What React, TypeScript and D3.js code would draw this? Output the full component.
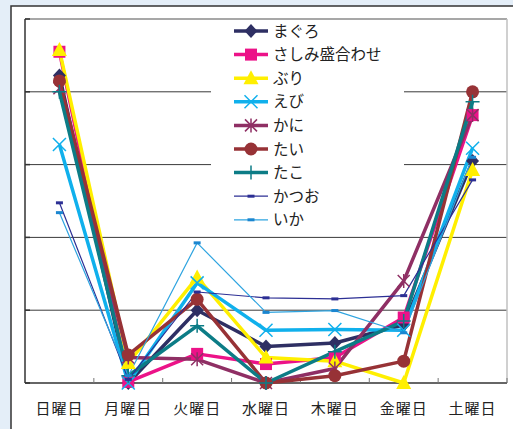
import React from "react";
import * as d3 from "d3";

const days = ["日曜日", "月曜日", "火曜日", "水曜日", "木曜日", "金曜日", "土曜日"];
const seriesNames = ["まぐろ", "さしみ盛合わせ", "ぶり", "えび", "かに", "たい", "たこ", "かつお", "いか"];
const maguro = [84.5, 0, 20, 10, 11, 16, 61];
const sashimi = [91, 0.3, 8, 5.2, 7, 18, 73.6];
const buri = [91.5, 5.5, 29, 7, 6, 0, 58.5];
const ebi = [65.5, 0, 27.5, 14.5, 14.7, 14.5, 64.5];
const kani = [81, 7, 6.5, 0, 4, 28, 73.6];
const tai = [83, 7.7, 23, 0, 2, 6, 80];
const tako = [80, 2, 15.7, 0, 8.6, 17, 77.3];
const katsuo = [49.5, 1, 25, 23.4, 23.1, 24, 55.8];
const ika = [46.8, 2, 38.5, 19.4, 19.9, 13.8, 62];
const yTicks = [0, 20, 40, 60, 80, 100];

const seriesValues = [maguro, sashimi, buri, ebi, kani, tai, tako, katsuo, ika];
const styles = [
  { color: "#2e2f63", width: 3.5, marker: "diamond" },
  { color: "#ec1288", width: 3.5, marker: "square" },
  { color: "#ffef00", width: 3.5, marker: "triangle" },
  { color: "#10b0ec", width: 3.5, marker: "x" },
  { color: "#8f2f64", width: 3.5, marker: "star" },
  { color: "#973236", width: 3.5, marker: "circle" },
  { color: "#0c7c86", width: 3.5, marker: "plus" },
  { color: "#2c2f94", width: 1.2, marker: "dash", mcolor: "#2c2f94" },
  { color: "#2ea4e0", width: 1.2, marker: "dash", mcolor: "#1b86d0" },
];

const W = 513, H = 429;
const L = 25, R = 507, T = 19, B = 383;

function Marker({ type, x, y, color }: { type: string; x: number; y: number; color: string }) {
  switch (type) {
    case "diamond":
      return <path d={`M${x},${y - 7}L${x + 6.5},${y}L${x},${y + 7}L${x - 6.5},${y}Z`} fill={color} />;
    case "square":
      return <rect x={x - 6} y={y - 6} width={12} height={12} fill={color} />;
    case "triangle":
      return <path d={`M${x},${y - 8}L${x + 7.5},${y + 6}L${x - 7.5},${y + 6}Z`} fill={color} />;
    case "circle":
      return <circle cx={x} cy={y} r={6.5} fill={color} />;
    case "x":
      return (
        <path d={`M${x - 6.5},${y - 6.5}L${x + 6.5},${y + 6.5}M${x - 6.5},${y + 6.5}L${x + 6.5},${y - 6.5}`} stroke={color} strokeWidth={1.5} fill="none" />
      );
    case "star":
      return (
        <path d={`M${x - 6},${y - 6}L${x + 6},${y + 6}M${x - 6},${y + 6}L${x + 6},${y - 6}M${x},${y - 7}L${x},${y + 7}`} stroke={color} strokeWidth={1.5} fill="none" />
      );
    case "plus":
      return <path d={`M${x - 7},${y}L${x + 7},${y}M${x},${y - 7}L${x},${y + 7}`} stroke={color} strokeWidth={1.5} fill="none" />;
    case "dash":
      return <rect x={x - 3.5} y={y - 1.5} width={7} height={3} fill={color} />;
  }
  return null;
}

export default function App() {
  const x = d3.scaleBand<string>().domain(days).range([L, R]).padding(0);
  const cx = (d: string) => (x(d) as number) + x.bandwidth() / 2;
  const y = d3.scaleLinear().domain([0, 100]).range([B, T]);
  const line = d3
    .line<number>()
    .x((_, i) => cx(days[i]))
    .y((v) => y(v));

  const legX = 234, legY0 = 31, legStep = 23.6;
  const font = "'Noto Sans CJK JP', 'Noto Sans', sans-serif";

  return (
    <svg width={W} height={H} style={{ position: "absolute", left: 0, top: 0 }} fontFamily={font}>
      <rect x={0} y={0} width={W} height={H} fill="#e4eef8" />
      <rect x={11} y={6} width={W} height={H} fill="#ffffff" stroke="#333" strokeWidth={1.5} />
      {/* grid */}
      {yTicks.slice(1, -1).map((t) => (
        <line key={t} x1={L} x2={R} y1={y(t)} y2={y(t)} stroke="#3a3a3a" strokeWidth={1} />
      ))}
      <line x1={L} x2={R} y1={T} y2={T} stroke="#8a8a8a" strokeWidth={1.5} />
      <line x1={R} x2={R} y1={T} y2={B} stroke="#c0c0c0" strokeWidth={1.5} />
      <line x1={L} x2={L} y1={T} y2={B} stroke="#333" strokeWidth={1.5} />
      <line x1={L} x2={R} y1={B} y2={B} stroke="#333" strokeWidth={1.5} />
      {yTicks.map((t) => (
        <line key={"yt" + t} x1={L} x2={L + 5} y1={y(t)} y2={y(t)} stroke="#333" strokeWidth={1.5} />
      ))}
      {days.map((d, i) => (
        <line key={"xt" + i} x1={(x(d) as number) + x.bandwidth()} x2={(x(d) as number) + x.bandwidth()} y1={B} y2={B - 5} stroke="#777" strokeWidth={1} />
      ))}
      {/* legend box */}
      <rect x={211} y={20} width={193} height={213} fill="#ffffff" />
      {/* lines */}
      {seriesValues.map((vals, si) => (
        <path key={"l" + si} d={line(vals) || ""} fill="none" stroke={styles[si].color} strokeWidth={styles[si].width} strokeLinejoin="round" />
      ))}
      {seriesValues.map((vals, si) =>
        vals.map((v, i) => (
          <Marker key={"m" + si + "-" + i} type={styles[si].marker} x={cx(days[i])} y={y(v)} color={styles[si].mcolor || styles[si].color} />
        ))
      )}
      {/* x labels */}
      {days.map((d) => (
        <text key={d} x={cx(d)} y={414} textAnchor="middle" fontSize={15} fill="#222" letterSpacing={1}>
          {d}
        </text>
      ))}
      {/* legend */}
      {seriesNames.map((n, si) => {
        const ly = legY0 + si * legStep;
        return (
          <g key={n}>
            <line x1={legX} x2={legX + 34} y1={ly} y2={ly} stroke={styles[si].color} strokeWidth={styles[si].width} />
            <Marker type={styles[si].marker} x={legX + 17} y={ly} color={styles[si].mcolor || styles[si].color} />
            <text x={273} y={ly + 5.5} fontSize={15.5} fill="#222">
              {n}
            </text>
          </g>
        );
      })}
    </svg>
  );
}
